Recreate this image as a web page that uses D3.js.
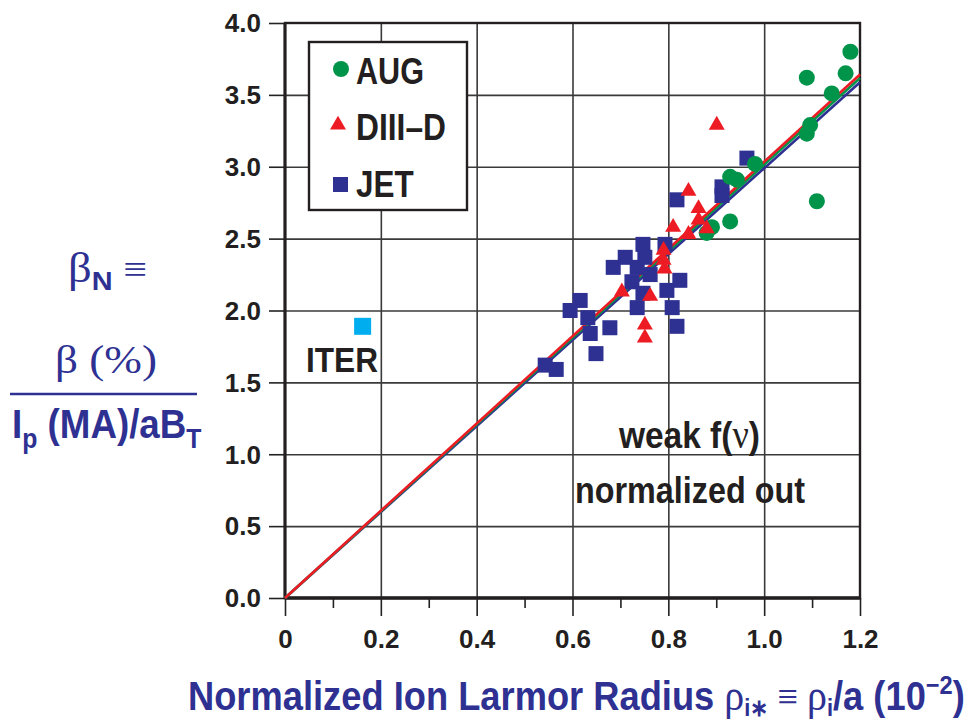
<!DOCTYPE html>
<html>
<head>
<meta charset="utf-8">
<script src="https://cdn.jsdelivr.net/npm/d3@7"></script>
<style>
  html, body { margin: 0; padding: 0; background: #fff; }
  svg { display: block; }
</style>
</head>
<body>
<svg id="chart" width="968" height="723"></svg>
<script>
// ---------------- data ----------------
const xTickValues = [0, 0.2, 0.4, 0.6, 0.8, 1.0, 1.2];
const xTickLabels = ["0", "0.2", "0.4", "0.6", "0.8", "1.0", "1.2"];
const xMinorTicks = [0.1, 0.3, 0.5, 0.7, 0.9, 1.1];
const yTickValues = [0, 0.5, 1.0, 1.5, 2.0, 2.5, 3.0, 3.5, 4.0];
const yTickLabels = ["0.0", "0.5", "1.0", "1.5", "2.0", "2.5", "3.0", "3.5", "4.0"];

const seriesNames = ["AUG", "DIII\u2013D", "JET"];

const augX = [1.180, 1.170, 1.141, 1.089, 1.096, 1.089, 1.110, 0.981, 0.929, 0.943, 0.929, 0.891, 0.880];
const augY = [3.80, 3.65, 3.51, 3.62, 3.29, 3.23, 2.76, 3.02, 2.93, 2.91, 2.62, 2.58, 2.54];

const diiidX = [0.901, 0.842, 0.863, 0.863, 0.810, 0.880, 0.842, 0.790, 0.790, 0.792, 0.703, 0.762, 0.751, 0.751];
const diiidY = [3.29, 2.83, 2.71, 2.63, 2.58, 2.57, 2.53, 2.42, 2.35, 2.29, 2.13, 2.10, 1.90, 1.81];

const jetX = [0.747, 0.793, 0.710, 0.751, 0.685, 0.735, 0.762, 0.724, 0.747, 0.824, 0.797, 0.735, 0.808,
              0.818, 0.616, 0.595, 0.632, 0.637, 0.678, 0.649, 0.543, 0.566, 0.964, 0.912, 0.912, 0.818];
const jetY = [2.46, 2.46, 2.37, 2.37, 2.30, 2.30, 2.25, 2.20, 2.12, 2.21, 2.14, 2.02, 2.02,
              1.89, 2.07, 2.00, 1.95, 1.84, 1.88, 1.70, 1.62, 1.59, 3.06, 2.86, 2.80, 2.77];

const iterX = [0.162];
const iterY = [1.89];

// fitted lines through the origin (slope), drawn from x = 0 to 1.2
const fitNames = ["JET fit", "AUG fit", "DIII-D fit"];
const fitSlopes = [2.99, 3.015, 3.035];
const fitXEnd = [1.2, 1.2, 1.2];

// ---------------- styles ----------------
const BLUE = "#2e3192";
const GREEN = "#00944a";
const RED = "#ed1c24";
const CYAN = "#00aeef";
const fitColors = [BLUE, GREEN, RED];
const SANS = "'Liberation Sans', Arial, Helvetica, sans-serif";
const SERIF = "'Liberation Serif', 'Times New Roman', serif";

const svg = d3.select("#chart");
const x = d3.scaleLinear().domain([0, 1.2]).range([285, 860]);
const y = d3.scaleLinear().domain([0, 4]).range([598, 23]);

// ---------------- grid ----------------
const gridX = svg.append("g").attr("transform", `translate(0,${y(0)})`)
  .call(d3.axisBottom(x).tickValues([0.2, 0.4, 0.6, 0.8, 1.0]).tickSize(-(y(0) - y(4))).tickFormat(""));
gridX.select(".domain").remove();
gridX.selectAll("line").attr("stroke", "#3a3a3a").attr("stroke-width", 1.6);

const gridY = svg.append("g").attr("transform", `translate(${x(0)},0)`)
  .call(d3.axisLeft(y).tickValues([0.5, 1.0, 1.5, 2.0, 2.5, 3.0, 3.5]).tickSize(-(x(1.2) - x(0))).tickFormat(""));
gridY.select(".domain").remove();
gridY.selectAll("line").attr("stroke", "#3a3a3a").attr("stroke-width", 1.6);

// ---------------- axes ticks ----------------
const xMinor = svg.append("g").attr("transform", `translate(0,${y(0)})`)
  .call(d3.axisBottom(x).tickValues(xMinorTicks).tickSize(10).tickFormat(""));
xMinor.select(".domain").remove();
xMinor.selectAll("line").attr("stroke", "#222").attr("stroke-width", 1.6);

const xAxis = svg.append("g").attr("transform", `translate(0,${y(0)})`)
  .call(d3.axisBottom(x).tickValues(xTickValues).tickSize(18).tickPadding(14)
        .tickFormat((d, i) => xTickLabels[i]));
xAxis.select(".domain").remove();
xAxis.selectAll("line").attr("stroke", "#222").attr("stroke-width", 1.6);
xAxis.selectAll("text").attr("font-family", SANS).attr("font-weight", "bold")
  .attr("font-size", 26).attr("fill", "#231f20");

const yAxis = svg.append("g").attr("transform", `translate(${x(0)},0)`)
  .call(d3.axisLeft(y).tickValues(yTickValues).tickSize(16).tickPadding(8)
        .tickFormat((d, i) => yTickLabels[i]));
yAxis.select(".domain").remove();
yAxis.selectAll("line").attr("stroke", "#222").attr("stroke-width", 1.6);
yAxis.selectAll("text").attr("font-family", SANS).attr("font-weight", "bold")
  .attr("font-size", 26).attr("fill", "#231f20").attr("dy", "0.34em");

// ---------------- frame ----------------
svg.append("rect").attr("x", x(0)).attr("y", y(4)).attr("width", x(1.2) - x(0)).attr("height", y(0) - y(4))
  .attr("fill", "none").attr("stroke", "#231f20").attr("stroke-width", 2.4);
svg.append("line").attr("x1", x(0)).attr("x2", x(1.2)).attr("y1", y(0)).attr("y2", y(0))
  .attr("stroke", "#231f20").attr("stroke-width", 3.4);
svg.append("line").attr("x1", x(0)).attr("x2", x(0)).attr("y1", y(0)).attr("y2", y(4))
  .attr("stroke", "#231f20").attr("stroke-width", 3);

// ---------------- fit lines ----------------
const lineGen = d3.line().x(d => x(d[0])).y(d => y(d[1]));
fitSlopes.forEach((s, i) => {
  svg.append("path").datum([[0, 0], [fitXEnd[i], s * fitXEnd[i]]])
    .attr("d", lineGen).attr("fill", "none").attr("stroke", fitColors[i]).attr("stroke-width", 2.6);
});

// ---------------- markers ----------------
const sqSize = 15;
const triPath = d3.symbol().type(d3.symbolTriangle).size(Math.sqrt(3) / 4 * 16 * 16);

svg.append("g").selectAll("rect").data(d3.range(jetX.length)).join("rect")
  .attr("x", i => x(jetX[i]) - sqSize / 2).attr("y", i => y(jetY[i]) - sqSize / 2)
  .attr("width", sqSize).attr("height", sqSize).attr("fill", BLUE);

svg.append("g").selectAll("circle").data(d3.range(augX.length)).join("circle")
  .attr("cx", i => x(augX[i])).attr("cy", i => y(augY[i])).attr("r", 8).attr("fill", GREEN);

svg.append("g").selectAll("path").data(d3.range(diiidX.length)).join("path")
  .attr("d", triPath).attr("transform", i => `translate(${x(diiidX[i])},${y(diiidY[i])})`)
  .attr("fill", RED);

svg.append("g").selectAll("rect").data(d3.range(iterX.length)).join("rect")
  .attr("x", i => x(iterX[i]) - 8.5).attr("y", i => y(iterY[i]) - 8.5)
  .attr("width", 17).attr("height", 17).attr("fill", CYAN);

// ---------------- text helper ----------------
function fitText(parent, x0, baseline, width, build) {
  const t = parent.append("text").attr("x", 0).attr("y", 0);
  build(t);
  const bb = t.node().getBBox();
  const sx = width / bb.width;
  t.attr("transform", `translate(${x0},${baseline}) scale(${sx},1) translate(${-bb.x},0)`);
  return t;
}
function plain(parent, x0, baseline, width, str, size, color, family, weight) {
  return fitText(parent, x0, baseline, width, t => {
    t.attr("font-family", family || SANS).attr("font-weight", weight || "bold")
      .attr("font-size", size).attr("fill", color).text(str);
  });
}

// ---------------- legend ----------------
const leg = svg.append("g");
leg.append("rect").attr("x", 309).attr("y", 42).attr("width", 158).attr("height", 168)
  .attr("fill", "#fff").attr("stroke", "#231f20").attr("stroke-width", 2.4);
leg.append("circle").attr("cx", 341).attr("cy", 69).attr("r", 8).attr("fill", GREEN);
leg.append("path").attr("d", triPath).attr("transform", "translate(338,125)").attr("fill", RED);
leg.append("rect").attr("x", 333).attr("y", 177).attr("width", 15).attr("height", 15).attr("fill", BLUE);
plain(leg, 356, 84, 68, seriesNames[0], 37, "#231f20");
plain(leg, 356, 140, 90, seriesNames[1], 37, "#231f20");
plain(leg, 356, 197, 58, seriesNames[2], 37, "#231f20");

// ---------------- annotations ----------------
plain(svg, 306, 372, 72, "ITER", 35, "#231f20");
fitText(svg, 618, 448, 142, t => {
  t.attr("font-family", SANS).attr("font-weight", "bold").attr("font-size", 37).attr("fill", "#231f20");
  t.append("tspan").text("weak f(");
  t.append("tspan").attr("font-family", SERIF).attr("font-weight", "normal").attr("font-size", 40).text("\u03BD");
  t.append("tspan").text(")");
});
plain(svg, 575, 503, 230, "normalized out", 37, "#231f20");

// ---------------- x axis title ----------------
fitText(svg, 188, 710, 777, t => {
  t.attr("font-family", SANS).attr("font-weight", "bold").attr("font-size", 40).attr("fill", BLUE);
  t.append("tspan").text("Normalized Ion Larmor Radius ");
  t.append("tspan").attr("font-family", SERIF).attr("font-weight", "normal").attr("font-size", 44).text("\u03C1");
  t.append("tspan").attr("font-size", 24).attr("dy", 6).text("i\u2217");
  t.append("tspan").attr("font-family", SERIF).attr("font-weight", "normal").attr("dy", -6).text(" \u2261 ");
  t.append("tspan").attr("font-family", SERIF).attr("font-weight", "normal").attr("font-size", 44).text("\u03C1");
  t.append("tspan").attr("font-size", 24).attr("dy", 6).text("i");
  t.append("tspan").attr("dy", -6).text("/a (10");
  t.append("tspan").attr("font-size", 26).attr("dy", -16).text("\u22122");
  t.append("tspan").attr("dy", 16).text(")");
});

// ---------------- y axis title ----------------
fitText(svg, 68, 282, 79, t => {
  t.attr("font-family", SANS).attr("font-weight", "bold").attr("font-size", 36).attr("fill", BLUE);
  t.append("tspan").attr("font-family", SERIF).attr("font-weight", "normal").attr("font-size", 42).text("\u03B2");
  t.append("tspan").attr("font-size", 26).attr("dy", 8).text("N");
  t.append("tspan").attr("font-family", SERIF).attr("font-weight", "normal").attr("font-size", 38).attr("dy", -8).text(" \u2261");
});
fitText(svg, 55, 373, 102, t => {
  t.attr("font-family", SERIF).attr("font-size", 40).attr("fill", BLUE).text("\u03B2 (%)");
});
svg.append("line").attr("x1", 10).attr("x2", 197).attr("y1", 394).attr("y2", 394)
  .attr("stroke", BLUE).attr("stroke-width", 2.6);
fitText(svg, 12, 438, 190, t => {
  t.attr("font-family", SANS).attr("font-weight", "bold").attr("font-size", 40).attr("fill", BLUE);
  t.append("tspan").text("I");
  t.append("tspan").attr("font-size", 27).attr("dy", 10).text("p");
  t.append("tspan").attr("dy", -10).text(" (MA)/aB");
  t.append("tspan").attr("font-size", 27).attr("dy", 10).text("T");
});
</script>
</body>
</html>
